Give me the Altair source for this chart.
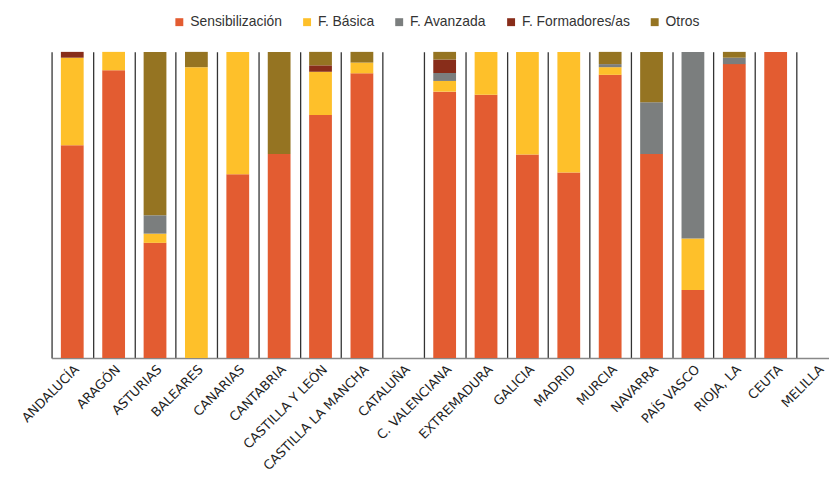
import altair as alt
import pandas as pd

regions = ["ANDALUCÍA", "ARAGÓN", "ASTURIAS", "BALEARES", "CANARIAS", "CANTABRIA",
           "CASTILLA Y LEÓN", "CASTILLA LA MANCHA", "CATALUÑA", "C. VALENCIANA",
           "EXTREMADURA", "GALICIA", "MADRID", "MURCIA", "NAVARRA", "PAÍS VASCO",
           "RIOJA, LA", "CEUTA", "MELILLA"]
series = ["Sensibilización", "F. Básica", "F. Avanzada", "F. Formadores/as", "Otros"]
colors = ["#E35C31", "#FEC02A", "#7B7E7E", "#882D1A", "#957422"]

sens = [69.5, 94.0, 37.6, 0, 60.0, 66.6, 79.4, 93.0, 0, 87.0, 86.0, 66.5, 60.6, 92.5, 66.6, 22.2, 96.0, 100, 0]
basica = [28.6, 6.0, 3.0, 95.0, 40.0, 0, 14.1, 3.5, 0, 3.5, 14.0, 33.5, 39.4, 2.5, 0, 16.8, 0, 0, 0]
avanzada = [0, 0, 6.0, 0, 0, 0, 0, 0, 0, 2.6, 0, 0, 0, 1.0, 16.9, 61.0, 2.1, 0, 0]
formadores = [1.9, 0, 0, 0, 0, 0, 2.1, 0, 0, 4.4, 0, 0, 0, 0, 0, 0, 0, 0, 0]
otros = [0, 0, 53.4, 5.0, 0, 33.4, 4.4, 3.5, 0, 2.5, 0, 0, 0, 4.0, 16.5, 0, 1.9, 0, 0]

rows = []
for si, (name, vals) in enumerate(zip(series, [sens, basica, avanzada, formadores, otros])):
    for ri, (r, v) in enumerate(zip(regions, vals)):
        if v > 0:
            rows.append({"region": r, "pos": ri + 0.5, "series": name, "value": v, "idx": si})
df = pd.DataFrame(rows)

# axis positions: band edges (integers) carry the grid, band centres carry the labels
axis_values = [i * 0.5 for i in range(2 * len(regions))]
names_js = "[" + ",".join("'" + r + "'" for r in regions) + "]"
label_expr = f"datum.value % 1 ? {names_js}[floor(datum.value)] : ''"

PLOT_W = 785
STEP = 41.78
visible_bands = PLOT_W / STEP

chart = alt.Chart(df).mark_bar(width=23).encode(
    x=alt.X("pos:Q",
            scale=alt.Scale(domain=[0, visible_bands], nice=False, zero=True, padding=0),
            axis=alt.Axis(title=None, values=axis_values, labelExpr=label_expr,
                          labelAngle=-45, labelAlign="right", labelBaseline="top",
                          labelPadding=5, ticks=False, grid=True,
                          gridOpacity={"condition": {"test": "datum.value % 1 === 0", "value": 1},
                                       "value": 0},
                          gridColor="#333333", gridWidth=1.3, domainColor="#888888",
                          domainWidth=1.5, labelFont="DejaVu Sans", labelFontSize=13,
                          labelColor="#1e1e1e", labelOverlap=False, labelFlush=False,
                          labelBound=False)),
    y=alt.Y("value:Q", stack="zero", scale=alt.Scale(domain=[0, 100], nice=False), axis=None),
    color=alt.Color("series:N", scale=alt.Scale(domain=series, range=colors),
                    legend=alt.Legend(title=None, orient="none", legendX=122, legendY=-37,
                                      direction="horizontal", symbolType="square",
                                      symbolSize=64, symbolStrokeWidth=0,
                                      labelFont="Liberation Sans", labelFontSize=14,
                                      labelColor="#333333", columnPadding=18,
                                      labelOffset=4, padding=0)),
    order=alt.Order("idx:Q", sort="ascending"),
).properties(
    width=PLOT_W, height=309,
    autosize=alt.AutoSizeParams(type="none"),
    padding={"left": 44, "top": 42, "right": 0, "bottom": 122},
).configure_view(stroke=None)

chart.save("out.html", embed_options={"renderer": "svg", "actions": False})
